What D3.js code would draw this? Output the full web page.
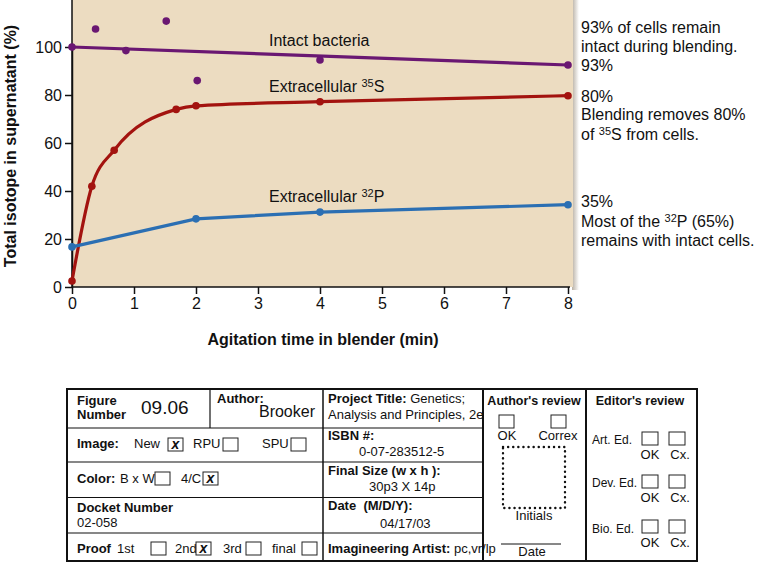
<!DOCTYPE html>
<html>
<head>
<meta charset="utf-8">
<script src="https://cdn.jsdelivr.net/npm/d3@7/dist/d3.min.js"></script>
<style>
  body { margin: 0; background: #fff; }
  text { font-family: "Liberation Sans", Arial, Helvetica, sans-serif; }
</style>
</head>
<body>
<script>
let w = 761;
let h = 563;

// agitation time (min) and % of isotope in supernatant
let intactTimes = [0, 0.38, 0.87, 1.52, 2.02, 4, 8];
let intactValues = [100, 107.5, 98.5, 110.8, 86, 94.6, 92.5];
let intactFitTimes = [0, 8];
let intactFitValues = [100, 92.5];
let sulfurTimes = [0, 0.32, 0.68, 1.68, 2, 4, 8];
let sulfurValues = [2.5, 42, 57, 74, 75.5, 77.2, 79.7];
let phosTimes = [0, 2, 4, 8];
let phosValues = [16.7, 28.4, 31.2, 34.3];

let xTicks = [0, 1, 2, 3, 4, 5, 6, 7, 8];
let yTicks = [0, 20, 40, 60, 80, 100];

let purple = '#6a1772';
let red = '#a3130f';
let blue = '#2b6fb3';

let zip = (xs, ys) => xs.map((x, i) => [x, ys[i]]);

let xScale = d3.scaleLinear().domain([0, 8]).range([72, 568]);
let yScale = d3.scaleLinear().domain([0, 100]).range([287, 47]);

let svg = d3.select('body')
  .append('svg')
  .attr('width', w)
  .attr('height', h);

svg.append('rect').attr('width', w).attr('height', h).attr('fill', '#fff');

// panel with a soft shadow on the right
let defs = svg.append('defs');
let grad = defs.append('linearGradient').attr('id', 'shade');
grad.append('stop').attr('offset', '0%').attr('stop-color', '#b8b0a4');
grad.append('stop').attr('offset', '100%').attr('stop-color', '#fff');
svg.append('rect')
  .attr('x', xScale(8) + 4).attr('y', 0)
  .attr('width', 7).attr('height', yScale(0) + 3)
  .attr('fill', 'url(#shade)');
svg.append('rect')
  .attr('x', xScale(0)).attr('y', 0)
  .attr('width', xScale(8) + 5 - xScale(0))
  .attr('height', yScale(0))
  .attr('fill', '#ecdcc1');

// axes
let yAxis = d3.axisLeft(yScale).tickValues(yTicks).tickSize(7).tickPadding(3).tickSizeOuter(0);
let xAxis = d3.axisBottom(xScale).tickValues(xTicks).tickSize(7).tickPadding(4).tickSizeOuter(0);

let gy = svg.append('g').attr('transform', 'translate(' + xScale(0) + ',0)').call(yAxis);
let gx = svg.append('g').attr('transform', 'translate(0,' + yScale(0) + ')').call(xAxis);
[gx, gy].forEach((g) => {
  g.selectAll('path, line').attr('stroke', '#111').attr('stroke-width', 1.5);
  g.selectAll('text').attr('font-size', '16px').attr('fill', '#111')
    .attr('font-family', '"Liberation Sans", Arial, sans-serif');
});
gx.select('.domain').attr('d', 'M' + xScale(0) + ',0H' + (xScale(8) + 2));
svg.append('line')
  .attr('x1', xScale(0)).attr('x2', xScale(0))
  .attr('y1', 0).attr('y2', yScale(0))
  .attr('stroke', '#111').attr('stroke-width', 1.5);

// axis titles
svg.append('text')
  .attr('transform', 'translate(16,146) rotate(-90)')
  .attr('text-anchor', 'middle')
  .attr('font-size', '16px').attr('font-weight', 'bold').attr('fill', '#111')
  .text('Total isotope in supernatant (%)');
svg.append('text')
  .attr('x', 323).attr('y', 345)
  .attr('text-anchor', 'middle')
  .attr('font-size', '16px').attr('font-weight', 'bold').attr('fill', '#111')
  .text('Agitation time in blender (min)');

// lines
let line = d3.line().x((d) => xScale(d[0])).y((d) => yScale(d[1]));
let smooth = d3.line().x((d) => xScale(d[0])).y((d) => yScale(d[1])).curve(d3.curveMonotoneX);

let series = [
  { path: line(zip(intactFitTimes, intactFitValues)), pts: zip(intactTimes, intactValues), color: purple },
  { path: smooth(zip(sulfurTimes, sulfurValues)), pts: zip(sulfurTimes, sulfurValues), color: red },
  { path: line(zip(phosTimes, phosValues)), pts: zip(phosTimes, phosValues), color: blue }
];

series.forEach((s) => {
  svg.append('path')
    .attr('d', s.path)
    .attr('fill', 'none')
    .attr('stroke', s.color)
    .attr('stroke-width', 3.2);
  svg.selectAll(null)
    .data(s.pts)
    .enter()
    .append('circle')
    .attr('cx', (d) => xScale(d[0]))
    .attr('cy', (d) => yScale(d[1]))
    .attr('r', 3.8)
    .attr('fill', s.color);
});

// labels: plain text, superscript, then the rest back on the baseline
let addText = (x, y, before, sup, after, size) => {
  let t = svg.append('text').attr('x', x).attr('y', y)
    .attr('font-size', size + 'px').attr('fill', '#111');
  t.append('tspan').text(before);
  if (sup) {
    t.append('tspan').attr('font-size', '11px').attr('dy', -5).text(sup);
    t.append('tspan').attr('dy', 5).text(after);
  }
  return t;
};

addText(269, 46, 'Intact bacteria', null, null, 16);
addText(269, 92, 'Extracellular ', '35', 'S', 16);
addText(269, 202, 'Extracellular ', '32', 'P', 16);

addText(581, 33, '93% of cells remain', null, null, 16);
addText(581, 52, 'intact during blending.', null, null, 16);
addText(581, 71, '93%', null, null, 16);
addText(581, 102, '80%', null, null, 16);
addText(581, 120, 'Blending removes 80%', null, null, 16);
addText(581, 140, 'of ', '35', 'S from cells.', 16);
addText(581, 207, '35%', null, null, 16);
addText(581, 227, 'Most of the ', '32', 'P (65%)', 16);
addText(581, 246, 'remains with intact cells.', null, null, 16);

// ---- production form ----
let form = svg.append('g');
let ln = (x1, y1, x2, y2, sw) => form.append('line')
  .attr('x1', x1).attr('y1', y1).attr('x2', x2).attr('y2', y2)
  .attr('stroke', '#111').attr('stroke-width', sw || 1);
let ft = (x, y, str, opts) => {
  opts = opts || {};
  return form.append('text').attr('x', x).attr('y', y)
    .attr('font-size', (opts.size || 13) + 'px')
    .attr('font-weight', opts.bold ? 'bold' : 'normal')
    .attr('text-anchor', opts.anchor || 'start')
    .attr('fill', '#111')
    .text(str);
};
let box = (x, y, checked, bw, bh) => {
  form.append('rect').attr('x', x).attr('y', y)
    .attr('width', bw || 15).attr('height', bh || 13)
    .attr('fill', '#fff').attr('stroke', '#222').attr('stroke-width', 1);
  if (checked) {
    ft(x + (bw || 15) / 2, y + 11, 'x', { bold: true, anchor: 'middle', size: 14 })
      .attr('font-style', 'italic');
  }
};

form.append('rect').attr('x', 67).attr('y', 389).attr('width', 630).attr('height', 172)
  .attr('fill', '#fff').attr('stroke', '#111').attr('stroke-width', 2);
ln(323, 389, 323, 561, 1.5);
ln(483, 389, 483, 561, 2);
ln(586, 389, 586, 561, 2);
ln(210, 389, 210, 428, 1.2);
[428, 462, 497.5, 533].forEach((y) => ln(67, y, 483, y, 1.2));

ft(77, 405, 'Figure', { bold: true });
ft(77, 419, 'Number', { bold: true });
ft(141, 414, '09.06', { size: 19 });
ft(217, 403, 'Author:', { bold: true });
ft(315, 417, 'Brooker', { size: 16, anchor: 'end' });

ft(77, 448, 'Image:', { bold: true });
ft(134, 448, 'New');
box(168, 438, true);
ft(193, 448, 'RPU');
box(223, 438, false);
ft(262, 448, 'SPU');
box(291, 438, false);

ft(77, 483, 'Color:', { bold: true });
ft(120, 483, 'B x W');
box(155, 472, false);
ft(181, 483, '4/C');
box(203, 472, true);

ft(77, 512, 'Docket Number', { bold: true });
ft(77, 527, '02-058');

ft(77, 553, 'Proof', { bold: true });
ft(117, 553, '1st');
box(151, 542, false);
ft(175, 553, '2nd');
box(196, 542, true);
ft(223, 553, '3rd');
box(246, 542, false);
ft(272, 553, 'final');
box(302, 542, false);

let pt = ft(328, 403, 'Project Title:', { bold: true });
pt.append('tspan').attr('font-weight', 'normal').text(' Genetics;');
ft(328, 419, 'Analysis and Principles, 2e');
ft(328, 440, 'ISBN #:', { bold: true });
ft(359, 456, '0-07-283512-5');
ft(328, 475, 'Final Size (w x h ):', { bold: true });
ft(369, 491, '30p3 X 14p');
ft(328, 510, 'Date  (M/D/Y):', { bold: true }).attr('xml:space', 'preserve');
ft(380, 528, '04/17/03');
let ia = ft(328, 553, 'Imagineering Artist:', { bold: true });
ia.append('tspan').attr('font-weight', 'normal').text(' pc,vr/lp');

ft(534, 405, "Author's review", { bold: true, anchor: 'middle', size: 12.5 });
box(499, 415, false);
box(551, 415, false);
ft(507, 440, 'OK', { anchor: 'middle' });
ft(558, 440, 'Correx', { anchor: 'middle' });
form.append('rect').attr('x', 503).attr('y', 447).attr('width', 62).attr('height', 61)
  .attr('fill', 'none').attr('stroke', '#111').attr('stroke-width', 2.4)
  .attr('stroke-dasharray', '0.1,5').attr('stroke-linecap', 'round');
ft(534, 520, 'Initials', { anchor: 'middle' });
ln(501, 544, 561, 544, 1);
ft(532, 556, 'Date', { anchor: 'middle' });

ft(640, 405, "Editor's review", { bold: true, anchor: 'middle', size: 12.5 });
[['Art. Ed.', 444, 432, 459], ['Dev. Ed.', 487, 475, 502], ['Bio. Ed.', 533, 520, 547]].forEach((r) => {
  ft(592, r[1], r[0], { size: 12 });
  box(642, r[2], false, 16, 13);
  box(669, r[2], false, 16, 13);
  ft(650, r[3], 'OK', { anchor: 'middle' });
  ft(680, r[3], 'Cx.', { anchor: 'middle' });
});
</script>
</body>
</html>
